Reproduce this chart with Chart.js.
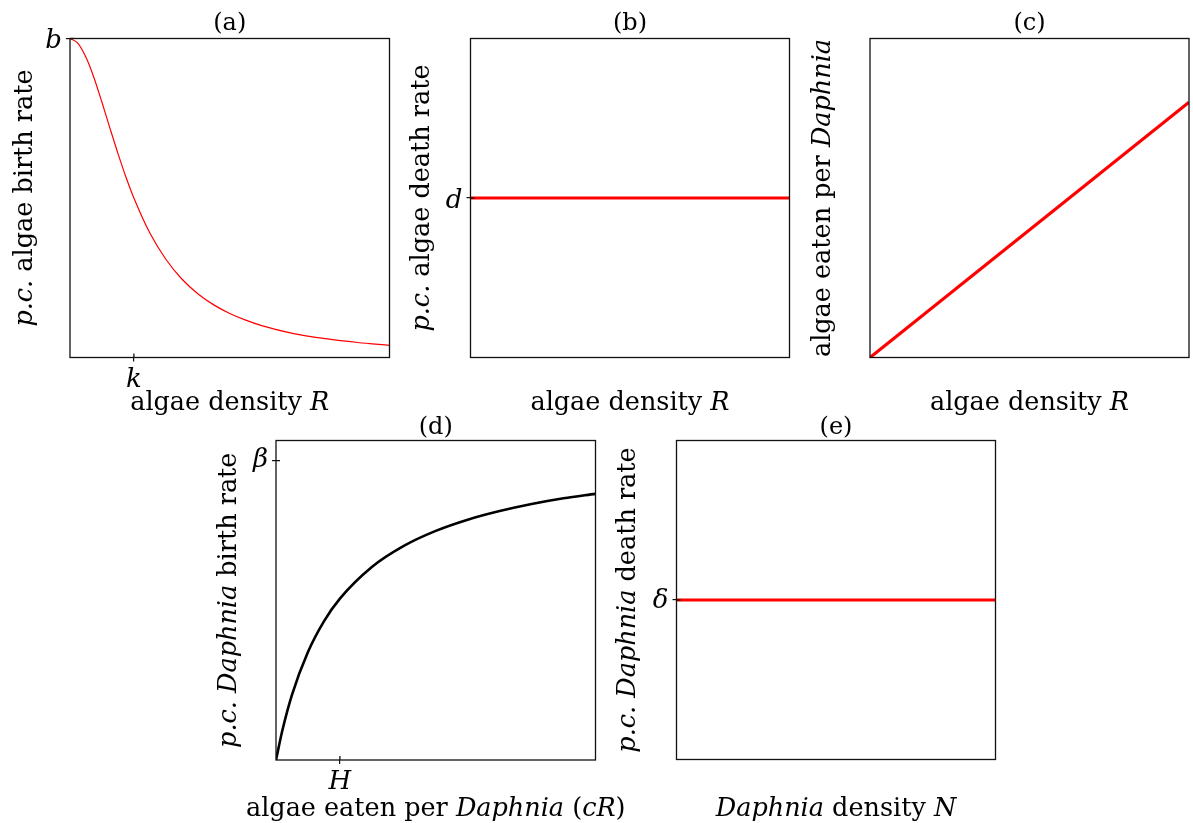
<!DOCTYPE html>
<html>
<head>
<meta charset="utf-8">
<script src="https://cdn.jsdelivr.net/npm/chart.js@4.4.1/dist/chart.umd.min.js"></script>
<style>
html,body{margin:0;padding:0;background:#fff;}
#wrap{position:relative;width:1193px;height:823px;overflow:hidden;background:#fff;}
canvas{position:absolute;left:0;top:0;}
</style>
</head>
<body>
<div id="wrap">
<canvas id="pa" width="1193" height="823"></canvas>
<canvas id="pb" width="1193" height="823"></canvas>
<canvas id="pc" width="1193" height="823"></canvas>
<canvas id="pd" width="1193" height="823"></canvas>
<canvas id="pe" width="1193" height="823"></canvas>
</div>
<script>
// ---------- DATA ----------
// (a) per-capita algae birth rate vs algae density R
const aDensity   = [0, 0.125, 0.25, 0.375, 0.5, 0.625, 0.75, 0.875, 1, 1.25, 1.5, 1.75, 2, 2.25, 2.5, 2.75, 3, 3.5, 4, 4.5, 5];
const aBirthRate = [1, 0.985, 0.941, 0.877, 0.80, 0.719, 0.64, 0.566, 0.50, 0.39, 0.308, 0.246, 0.20, 0.165, 0.138, 0.117, 0.10, 0.075, 0.059, 0.047, 0.038];
const aXTickValues = [1];   const aXTickLabels = ['k'];
const aYTickValues = [1];   const aYTickLabels = ['b'];

// (b) per-capita algae death rate vs algae density R
const bDensity   = [0, 1];
const bDeathRate = [1, 1];
const bYTickValues = [1];   const bYTickLabels = ['d'];

// (c) algae eaten per Daphnia vs algae density R
const cDensity = [0, 1];
const cEaten   = [0, 0.8];

// (d) per-capita Daphnia birth rate vs algae eaten per Daphnia (cR)
const dEaten     = [0, 0.02, 0.05, 0.1, 0.15, 0.2, 0.3, 0.4, 0.5, 0.6, 0.7, 0.8, 0.9, 1];
const dBirthRate = [0, 0.093, 0.204, 0.338, 0.434, 0.505, 0.604, 0.670, 0.717, 0.752, 0.779, 0.801, 0.819, 0.833];
const dXTickValues = [0.2];   const dXTickLabels = ['H'];
const dYTickValues = [0.937]; const dYTickLabels = ['β'];

// (e) per-capita Daphnia death rate vs Daphnia density N
const eDensity   = [0, 1];
const eDeathRate = [1, 1];
const eYTickValues = [1];   const eYTickLabels = ['δ'];

// Titles and axis labels: [text, italic?]
const aTitle = '(a)', bTitle = '(b)', cTitle = '(c)', dTitle = '(d)', eTitle = '(e)';
const algaeDensityLabel = [['algae density ', 0], ['R', 1]];
const aYLabel = [['p.c.', 1], [' algae birth rate', 0]];
const bYLabel = [['p.c.', 1], [' algae death rate', 0]];
const cYLabel = [['algae eaten per ', 0], ['Daphnia', 1]];
const dXLabel = [['algae eaten per ', 0], ['Daphnia', 1], [' (', 0], ['cR', 1], [')', 0]];
const dYLabel = [['p.c. ', 1], ['Daphnia', 1], [' birth rate', 0]];
const eXLabel = [['Daphnia', 1], [' density ', 0], ['N', 1]];
const eYLabel = [['p.c. ', 1], ['Daphnia', 1], [' death rate', 0]];

// ---------- RENDERING ----------
const W = 1193, H = 823;
const FONT = '"DejaVu Serif"';
const INK = '#111';
const Y_AXIS_W = 60, X_AXIS_H = 40;

function drawRich(ctx, segs, cx, cy, size, vertical) {
  const fonts = segs.map(s => (s[1] ? 'italic ' : '') + size + 'px ' + FONT);
  let total = 0;
  const widths = segs.map((s, i) => { ctx.font = fonts[i]; const w = ctx.measureText(s[0]).width; total += w; return w; });
  ctx.save();
  ctx.translate(cx, cy);
  if (vertical) ctx.rotate(-Math.PI / 2);
  ctx.textAlign = 'left';
  ctx.textBaseline = 'alphabetic';
  ctx.fillStyle = '#000';
  let x = -total / 2;
  segs.forEach((s, i) => { ctx.font = fonts[i]; ctx.fillText(s[0], x, 0); x += widths[i]; });
  ctx.restore();
}

const panelText = {
  id: 'panelText',
  afterDraw(chart, args, o) {
    const ctx = chart.ctx, a = chart.chartArea;
    ctx.save();
    ctx.strokeStyle = INK;
    ctx.lineWidth = 1.3;
    ctx.strokeRect(a.left, a.top, a.right - a.left, a.bottom - a.top);
    // inward halves of the tick marks
    ['x', 'y'].forEach(id => {
      const s = chart.scales[id];
      if (!s || !s.options.display) return;
      s.ticks.forEach(t => {
        const p = s.getPixelForValue(t.value);
        ctx.beginPath();
        if (id === 'x') { ctx.moveTo(p, a.bottom); ctx.lineTo(p, a.bottom - 4); }
        else { ctx.moveTo(a.left, p); ctx.lineTo(a.left + 4, p); }
        ctx.stroke();
      });
    });
    ctx.restore();
    const cx = (a.left + a.right) / 2, cy = (a.top + a.bottom) / 2;
    drawRich(ctx, [[o.title, 0]], cx, a.top - o.titleGap, 24, false);
    drawRich(ctx, o.xLabel, cx, a.bottom + o.xLabelGap, 25.5, false);
    drawRich(ctx, o.yLabel, a.left - o.yLabelGap, cy, 25.5, true);
  }
};

function makeAxis(min, max, tickValues, tickLabels, labelOffset, pad) {
  const has = tickValues.length > 0;
  return {
    type: 'linear', min: min, max: max, display: has,
    afterBuildTicks: s => { s.ticks = tickValues.map(v => ({ value: v })); },
    border: { display: false },
    grid: { display: true, drawOnChartArea: false, drawTicks: true, tickLength: 4, color: INK, lineWidth: 1.2 },
    ticks: {
      callback: (v, i) => tickLabels[i],
      font: { family: 'DejaVu Serif', style: 'italic', size: 26 },
      color: '#000', padding: pad, maxRotation: 0, minRotation: 0, autoSkip: false,
      labelOffset: labelOffset || 0
    }
  };
}

function panel(id, p) {
  const xAxis = makeAxis(p.xMin, p.xMax, p.xTicks, p.xTickLabels, 0, 3);
  const yAxis = makeAxis(p.yMin, p.yMax, p.yTicks, p.yTickLabels, p.yLabelOffset, 4);
  const hasX = p.xTicks.length > 0, hasY = p.yTicks.length > 0;
  xAxis.afterFit = s => { s.height = hasX ? X_AXIS_H : 0; };
  yAxis.afterFit = s => { s.width = hasY ? Y_AXIS_W : 0; };
  const pad = {
    left: p.area[0] - (hasY ? Y_AXIS_W : 0),
    top: p.area[1],
    right: W - p.area[2],
    bottom: H - p.area[3] - (hasX ? X_AXIS_H : 0)
  };
  new Chart(document.getElementById(id), {
    type: 'line',
    data: {
      datasets: [{
        data: p.xs.map((x, i) => ({ x: x, y: p.ys[i] })),
        borderColor: p.color, borderWidth: p.lineWidth,
        pointRadius: 0, fill: false,
        cubicInterpolationMode: p.smooth ? 'monotone' : 'default', tension: 0
      }]
    },
    options: {
      responsive: false, animation: false, devicePixelRatio: 1, events: [],
      layout: { padding: pad },
      scales: { x: xAxis, y: yAxis },
      plugins: {
        legend: { display: false }, tooltip: { enabled: false }, title: { display: false },
        panelText: { title: p.title, xLabel: p.xLabel, yLabel: p.yLabel,
                     titleGap: p.titleGap, xLabelGap: p.xLabelGap, yLabelGap: p.yLabelGap }
      }
    },
    plugins: [panelText]
  });
}

panel('pa', { area: [70, 38.5, 389.5, 357.5], xs: aDensity, ys: aBirthRate, xMin: 0, xMax: 5, yMin: 0, yMax: 1,
  xTicks: aXTickValues, xTickLabels: aXTickLabels, yTicks: aYTickValues, yTickLabels: aYTickLabels, yLabelOffset: 3,
  color: '#ff0000', lineWidth: 1.2, smooth: true, title: aTitle, xLabel: algaeDensityLabel, yLabel: aYLabel,
  titleGap: 8.5, xLabelGap: 52, yLabelGap: 38 });

panel('pb', { area: [470.5, 38.5, 789.5, 357.5], xs: bDensity, ys: bDeathRate, xMin: 0, xMax: 1, yMin: 0, yMax: 2,
  xTicks: [], xTickLabels: [], yTicks: bYTickValues, yTickLabels: bYTickLabels, yLabelOffset: 3,
  color: '#ff0000', lineWidth: 3.2, smooth: false, title: bTitle, xLabel: algaeDensityLabel, yLabel: bYLabel,
  titleGap: 8.5, xLabelGap: 52, yLabelGap: 42 });

panel('pc', { area: [870, 38.5, 1189, 357.5], xs: cDensity, ys: cEaten, xMin: 0, xMax: 1, yMin: 0, yMax: 1,
  xTicks: [], xTickLabels: [], yTicks: [], yTickLabels: [], yLabelOffset: 0,
  color: '#ff0000', lineWidth: 3.2, smooth: false, title: cTitle, xLabel: algaeDensityLabel, yLabel: cYLabel,
  titleGap: 8.5, xLabelGap: 52, yLabelGap: 40 });

panel('pd', { area: [276, 440.5, 595.5, 760], xs: dEaten, ys: dBirthRate, xMin: 0, xMax: 1, yMin: 0, yMax: 1,
  xTicks: dXTickValues, xTickLabels: dXTickLabels, yTicks: dYTickValues, yTickLabels: dYTickLabels, yLabelOffset: 0,
  color: '#000000', lineWidth: 2.6, smooth: true, title: dTitle, xLabel: dXLabel, yLabel: dYLabel,
  titleGap: 6.5, xLabelGap: 55.5, yLabelGap: 40 });

panel('pe', { area: [676.5, 440.5, 995.5, 759.5], xs: eDensity, ys: eDeathRate, xMin: 0, xMax: 1, yMin: 0, yMax: 2,
  xTicks: [], xTickLabels: [], yTicks: eYTickValues, yTickLabels: eYTickLabels, yLabelOffset: 1,
  color: '#ff0000', lineWidth: 3.2, smooth: false, title: eTitle, xLabel: eXLabel, yLabel: eYLabel,
  titleGap: 6.5, xLabelGap: 56, yLabelGap: 41.5 });
</script>
</body>
</html>
